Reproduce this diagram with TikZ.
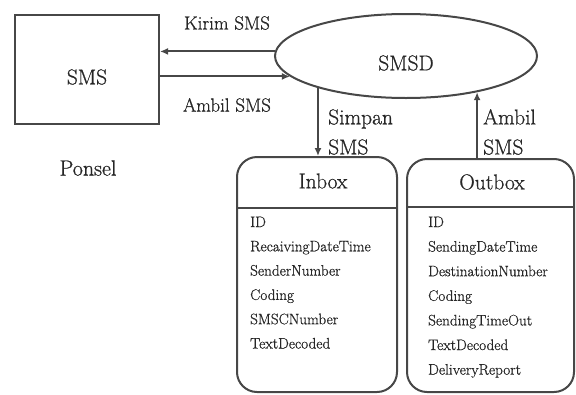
\documentclass[tikz,border=0pt]{standalone}
\usepackage{fontspec}
\newfontface\lm{Latin Modern Roman}[FakeBold=0.8]
\usetikzlibrary{shapes.geometric,arrows.meta}
\tikzset{
  ink/.style={draw=black!72, line width=2pt},
  bigtext/.style={font=\lm\fontsize{21.5}{25}\selectfont, text=black!85, inner sep=0pt},
  midtext/.style={font=\lm\fontsize{19}{22}\selectfont, text=black!85, inner sep=0pt},
  item/.style={font=\lm\fontsize{15.2}{18}\selectfont, text=black!85, inner sep=0pt, anchor=base west},
  arr/.style={draw=black!72, line width=2pt, -{Latex[length=8pt,width=7pt]}},
  table/.style={ink, rounded corners=20pt, inner sep=0pt}
}
\begin{document}
\begin{tikzpicture}[x=1pt,y=-1pt]
\useasboundingbox (0,0) rectangle (576,394);
% phone
\node[ink, minimum width=144pt, minimum height=109pt, inner sep=0pt] (sms) at (87,69.5) {};
\node[bigtext] (smstext) at (87,77) {SMS};
\node[bigtext, font=\lm\fontsize{22}{25}\selectfont] (ponsel) at (88,168) {Ponsel};
% daemon
\node[ink, ellipse, minimum width=262pt, minimum height=84pt, inner sep=0pt] (smsd) at (406,56) {};
\node[bigtext] (smsdtext) at (406,63) {SMSD};
% tables
\node[table, minimum width=160pt, minimum height=235pt] (inbox) at (317,274.5) {};
\node[table, minimum width=167pt, minimum height=233pt] (outbox) at (490.5,275.5) {};
\node[bigtext] (inboxhead) at (323,181) {Inbox};
\node[bigtext] (outboxhead) at (492,182) {Outbox};
\draw[ink] (inbox.west |- 0,208) -- (inbox.east |- 0,208);
\draw[ink] (outbox.west |- 0,207) -- (outbox.east |- 0,207);
\foreach \t [count=\i] in {ID,RecaivingDateTime,SenderNumber,Coding,SMSCNumber,TextDecoded}
  \node[item] (in\i) at (250,{227+24.3*(\i-1)}) {\t};
\foreach \t [count=\i] in {ID,SendingDateTime,DestinationNumber,Coding,SendingTimeOut,TextDecoded,DeliveryReport}
  \node[item] (out\i) at (428,{227+24.6*(\i-1)}) {\t};
% connectors
\draw[arr] (smsd.178.2) -- (smsd.178.2 -| sms.east);
\draw[arr] (sms.east |- smsd.190.5) -- (smsd.190.5);
\node[midtext] (kirim) at (227,23) {Kirim SMS};
\node[midtext] (ambil1) at (227,105) {Ambil SMS};
\draw[arr] (smsd.200) -- (smsd.200 |- inbox.north);
\draw[arr] (smsd.333.6 |- outbox.north) -- (smsd.333.6);
\node[bigtext, anchor=west, align=left, font=\lm\fontsize{21.5}{30}\selectfont] (simpan) at (328,132) {Simpan\\SMS};
\node[bigtext, anchor=west, align=left, font=\lm\fontsize{21.5}{30}\selectfont] (ambil2) at (483,132) {Ambil\\SMS};
\end{tikzpicture}
\end{document}
